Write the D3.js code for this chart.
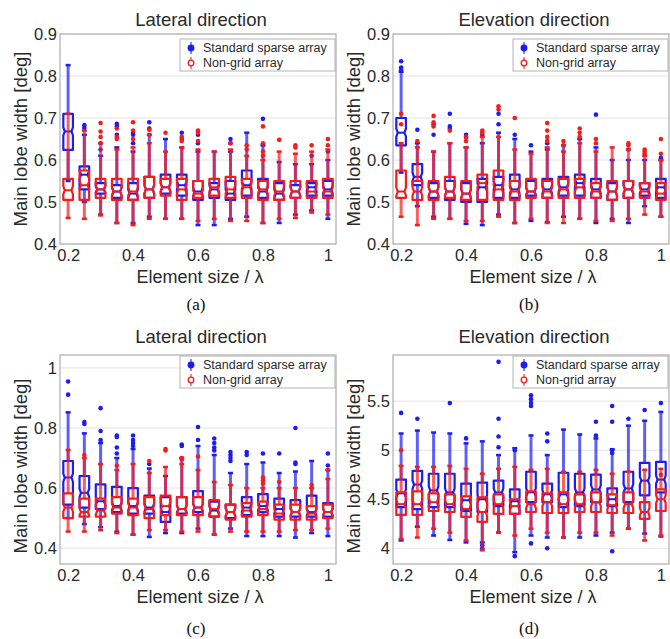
<!DOCTYPE html>
<html>
<head>
<meta charset="utf-8">
<script src="https://cdn.jsdelivr.net/npm/d3@7"></script>
<style>
  body { margin: 0; background: #fff; }
  svg { display: block; font-family: "Liberation Sans", Arial, sans-serif; }
</style>
</head>
<body>
<svg id="chart"></svg>
<script>
// element size / lambda, one box per value
const sizes = [0.2, 0.25, 0.3, 0.35, 0.4, 0.45, 0.5, 0.55, 0.6, 0.65, 0.7, 0.75, 0.8, 0.85, 0.9, 0.95, 1];
const xTicks = [0.2, 0.4, 0.6, 0.8, 1];
const seriesNames = ['Standard sparse array', 'Non-grid  array'];

// each box row: [whisker low, q1, median, q3, whisker high]
// (a) lateral
const aStd = [
  [0.55, 0.624, 0.668, 0.71, 0.826], [0.50, 0.53, 0.565, 0.585, 0.66], [0.47, 0.52, 0.53, 0.545, 0.61],
  [0.45, 0.51, 0.525, 0.54, 0.63], [0.45, 0.505, 0.52, 0.545, 0.62], [0.465, 0.51, 0.53, 0.56, 0.66],
  [0.46, 0.52, 0.535, 0.565, 0.65], [0.46, 0.515, 0.54, 0.565, 0.63], [0.445, 0.505, 0.525, 0.55, 0.62],
  [0.445, 0.51, 0.53, 0.545, 0.62], [0.46, 0.505, 0.52, 0.55, 0.62], [0.465, 0.515, 0.54, 0.575, 0.665],
  [0.45, 0.51, 0.525, 0.555, 0.635], [0.45, 0.505, 0.52, 0.545, 0.595], [0.47, 0.51, 0.525, 0.54, 0.59],
  [0.48, 0.515, 0.535, 0.545, 0.59], [0.46, 0.515, 0.53, 0.55, 0.6]];
const aStdOut = [[], [0.676, 0.683], [0.625, 0.64], [0.66, 0.68, 0.686], [0.64, 0.66, 0.665], [0.675, 0.69], [],
  [0.65, 0.665], [0.64, 0.66], [], [0.64, 0.65], [], [0.698], [], [], [0.61], [0.62]];
const aNg = [
  [0.462, 0.505, 0.528, 0.555, 0.71], [0.46, 0.505, 0.54, 0.575, 0.67], [0.468, 0.51, 0.53, 0.555, 0.64],
  [0.45, 0.505, 0.525, 0.555, 0.625], [0.445, 0.505, 0.525, 0.555, 0.63], [0.46, 0.51, 0.53, 0.56, 0.64],
  [0.46, 0.515, 0.535, 0.555, 0.62], [0.46, 0.505, 0.53, 0.555, 0.63], [0.455, 0.51, 0.52, 0.55, 0.625],
  [0.46, 0.515, 0.535, 0.555, 0.62], [0.455, 0.51, 0.53, 0.56, 0.625], [0.455, 0.51, 0.535, 0.555, 0.61],
  [0.45, 0.505, 0.53, 0.55, 0.6], [0.46, 0.505, 0.525, 0.55, 0.62], [0.462, 0.51, 0.525, 0.55, 0.615],
  [0.475, 0.51, 0.525, 0.55, 0.62], [0.47, 0.51, 0.525, 0.555, 0.625]];
const aNgOut = [[], [], [0.655, 0.668, 0.688], [0.65, 0.655, 0.675], [0.65, 0.67, 0.69], [0.66, 0.672], [0.665],
  [0.645, 0.655], [0.645, 0.665, 0.67], [], [0.64], [0.625, 0.635], [0.61, 0.62, 0.64, 0.68], [0.648],
  [0.63, 0.635], [0.635], [0.635, 0.65]];

// (b) elevation
const bStd = [
  [0.57, 0.635, 0.665, 0.7, 0.81], [0.49, 0.54, 0.56, 0.59, 0.64], [0.465, 0.51, 0.525, 0.545, 0.62],
  [0.46, 0.505, 0.525, 0.55, 0.64], [0.448, 0.5, 0.52, 0.545, 0.63], [0.445, 0.5, 0.535, 0.555, 0.64],
  [0.47, 0.51, 0.54, 0.56, 0.665], [0.45, 0.51, 0.53, 0.565, 0.65], [0.455, 0.515, 0.525, 0.55, 0.62],
  [0.452, 0.51, 0.53, 0.555, 0.625], [0.465, 0.515, 0.535, 0.56, 0.635], [0.46, 0.515, 0.545, 0.565, 0.65],
  [0.45, 0.51, 0.53, 0.555, 0.63], [0.46, 0.505, 0.525, 0.545, 0.6], [0.45, 0.51, 0.53, 0.55, 0.6],
  [0.49, 0.515, 0.53, 0.545, 0.6], [0.465, 0.51, 0.535, 0.555, 0.6]];
const bStdOut = [[0.815, 0.82, 0.835], [0.672], [0.66, 0.685], [0.675, 0.68, 0.71], [0.655, 0.66], [0.66],
  [0.685, 0.71], [0.66], [0.635], [0.64], [], [], [0.708], [], [0.625], [], [0.605]];
const bNg = [
  [0.465, 0.51, 0.525, 0.575, 0.64], [0.445, 0.505, 0.525, 0.55, 0.63], [0.46, 0.505, 0.525, 0.55, 0.62],
  [0.46, 0.51, 0.525, 0.56, 0.64], [0.455, 0.505, 0.52, 0.55, 0.63], [0.455, 0.505, 0.545, 0.565, 0.655],
  [0.465, 0.505, 0.53, 0.575, 0.655], [0.45, 0.505, 0.525, 0.55, 0.625], [0.46, 0.51, 0.525, 0.555, 0.615],
  [0.45, 0.51, 0.525, 0.55, 0.63], [0.45, 0.51, 0.53, 0.555, 0.62], [0.46, 0.51, 0.535, 0.555, 0.64],
  [0.455, 0.51, 0.525, 0.545, 0.62], [0.455, 0.505, 0.525, 0.55, 0.63], [0.46, 0.51, 0.53, 0.55, 0.625],
  [0.47, 0.51, 0.525, 0.545, 0.61], [0.465, 0.505, 0.52, 0.545, 0.6]];
const bNgOut = [[0.685, 0.71], [0.645], [0.68, 0.69, 0.705], [0.67], [0.645, 0.655], [0.665, 0.67], [0.72, 0.728],
  [0.7], [], [0.645, 0.655, 0.67, 0.688], [0.635, 0.645], [0.655, 0.665, 0.675], [0.64, 0.65], [],
  [0.635, 0.64], [0.615, 0.62, 0.625], [0.615, 0.65]];

// (c) lateral
const cStd = [
  [0.5, 0.545, 0.635, 0.69, 0.852], [0.48, 0.535, 0.584, 0.64, 0.782], [0.47, 0.53, 0.556, 0.612, 0.75],
  [0.455, 0.52, 0.54, 0.604, 0.7], [0.445, 0.515, 0.54, 0.6, 0.73], [0.437, 0.515, 0.535, 0.575, 0.665],
  [0.45, 0.487, 0.52, 0.57, 0.64], [0.45, 0.515, 0.53, 0.57, 0.7], [0.465, 0.52, 0.535, 0.59, 0.74],
  [0.445, 0.505, 0.525, 0.555, 0.71], [0.465, 0.5, 0.52, 0.545, 0.65], [0.44, 0.51, 0.535, 0.57, 0.68],
  [0.44, 0.52, 0.54, 0.58, 0.685], [0.44, 0.505, 0.53, 0.565, 0.65], [0.435, 0.505, 0.52, 0.56, 0.655],
  [0.45, 0.505, 0.52, 0.575, 0.69], [0.44, 0.505, 0.52, 0.55, 0.66]];
const cStdOut = [[0.911, 0.955], [0.813, 0.82], [0.76, 0.79, 0.866], [0.715, 0.735, 0.77, 0.775],
  [0.74, 0.75, 0.76, 0.775], [0.68], [], [0.74, 0.745], [0.76, 0.803], [0.725, 0.735, 0.75, 0.765],
  [0.69, 0.7, 0.71, 0.72], [0.71, 0.72], [0.715], [0.715], [0.68, 0.685, 0.8], [], [0.675, 0.715]];
const cNg = [
  [0.455, 0.5, 0.535, 0.582, 0.727], [0.455, 0.505, 0.52, 0.565, 0.7], [0.46, 0.505, 0.525, 0.565, 0.68],
  [0.45, 0.515, 0.535, 0.57, 0.66], [0.445, 0.51, 0.535, 0.565, 0.68], [0.46, 0.5, 0.53, 0.57, 0.65],
  [0.46, 0.51, 0.54, 0.575, 0.67], [0.455, 0.51, 0.53, 0.57, 0.68], [0.455, 0.51, 0.535, 0.57, 0.66],
  [0.445, 0.505, 0.53, 0.56, 0.62], [0.455, 0.495, 0.52, 0.545, 0.61], [0.455, 0.505, 0.525, 0.55, 0.6],
  [0.455, 0.51, 0.53, 0.555, 0.6], [0.455, 0.495, 0.515, 0.545, 0.6], [0.46, 0.495, 0.52, 0.545, 0.6],
  [0.46, 0.495, 0.515, 0.54, 0.6], [0.465, 0.5, 0.52, 0.545, 0.63]];
const cNgOut = [[], [0.71], [], [0.675], [], [0.69], [0.725, 0.73], [0.695, 0.7], [0.705], [], [], [],
  [0.615, 0.625, 0.635], [0.62], [], [0.61], [0.66]];

// (d) elevation
const dStd = [
  [4.08, 4.42, 4.56, 4.7, 5.17], [4.22, 4.4, 4.65, 4.79, 5.2], [4.13, 4.42, 4.59, 4.76, 5.18],
  [4.085, 4.42, 4.57, 4.76, 5.17], [4.06, 4.38, 4.49, 4.66, 5.07], [4.06, 4.37, 4.5, 4.67, 5.09],
  [4.16, 4.43, 4.57, 4.69, 4.95], [3.96, 4.35, 4.48, 4.6, 5.02], [4.13, 4.47, 4.57, 4.78, 5.15],
  [4.11, 4.47, 4.55, 4.66, 4.95], [4.11, 4.42, 4.55, 4.77, 5.21], [4.11, 4.43, 4.57, 4.76, 5.16],
  [4.13, 4.47, 4.6, 4.75, 5.12], [4.16, 4.43, 4.5, 4.61, 5.01], [4.2, 4.47, 4.61, 4.78, 5.25],
  [4.15, 4.54, 4.69, 4.87, 5.3], [4.12, 4.57, 4.7, 4.88, 5.39]];
const dStdOut = [[5.38], [5.32], [], [5.48], [5.12], [4.0, 4.03], [5.03, 5.14, 5.32, 5.9], [3.92, 5.0],
  [4.05, 5.45, 5.48, 5.52, 5.56], [4.0, 5.09, 5.17], [], [], [5.15, 5.29], [3.97, 4.97, 5.0, 5.29, 5.45],
  [5.32], [5.41], [5.48]];
const dNg = [
  [4.095, 4.34, 4.45, 4.57, 4.84], [4.11, 4.34, 4.45, 4.58, 4.83], [4.2, 4.38, 4.47, 4.56, 4.83],
  [4.16, 4.37, 4.45, 4.55, 4.84], [4.08, 4.32, 4.4, 4.53, 4.81], [3.98, 4.27, 4.37, 4.52, 4.76],
  [4.16, 4.35, 4.45, 4.55, 4.81], [4.13, 4.35, 4.43, 4.5, 4.83], [4.2, 4.37, 4.45, 4.58, 4.8],
  [4.16, 4.36, 4.47, 4.56, 4.81], [4.11, 4.36, 4.45, 4.57, 4.78], [4.16, 4.37, 4.45, 4.55, 4.78],
  [4.16, 4.37, 4.47, 4.57, 4.8], [4.13, 4.36, 4.44, 4.55, 4.76], [4.2, 4.36, 4.45, 4.57, 4.78],
  [4.08, 4.3, 4.37, 4.47, 4.8], [4.13, 4.38, 4.5, 4.6, 4.81]];
const dNgOut = [[5.0], [], [], [], [], [], [], [], [], [], [], [], [], [], [], [], [4.75]];

const BLUE = '#1c1cf5';
const RED = '#f51c1c';
const W = 670, H = 639;

const panels = [
  {left: 60, right: 336, top: 34, bottom: 244, yDomain: [0.4, 0.9], yTicks: [0.4, 0.5, 0.6, 0.7, 0.8, 0.9],
   title: 'Lateral direction', titleY: 26, xLabelY: 283, capY: 310, cap: '(a)', yLabelY: 139,
   std: aStd, stdOut: aStdOut, ng: aNg, ngOut: aNgOut},
  {left: 393, right: 669, top: 34, bottom: 244, yDomain: [0.4, 0.9], yTicks: [0.4, 0.5, 0.6, 0.7, 0.8, 0.9],
   title: 'Elevation direction', titleY: 26, xLabelY: 283, capY: 310, cap: '(b)', yLabelY: 139,
   std: bStd, stdOut: bStdOut, ng: bNg, ngOut: bNgOut},
  {left: 60, right: 336, top: 355, bottom: 564, yDomain: [0.347, 1.043], yTicks: [0.4, 0.6, 0.8, 1],
   title: 'Lateral direction', titleY: 343, xLabelY: 603, capY: 634, cap: '(c)', yLabelY: 466,
   std: cStd, stdOut: cStdOut, ng: cNg, ngOut: cNgOut},
  {left: 393, right: 669, top: 355, bottom: 564, yDomain: [3.84, 5.97], yTicks: [4, 4.5, 5, 5.5],
   title: 'Elevation direction', titleY: 343, xLabelY: 603, capY: 634, cap: '(d)', yLabelY: 466,
   std: dStd, stdOut: dStdOut, ng: dNg, ngOut: dNgOut}
];

const svg = d3.select('#chart').attr('width', W).attr('height', H);
svg.append('rect').attr('width', W).attr('height', H).attr('fill', '#fff');

function boxPath(cx, hw, yq1, ymed, yq3) {
  // notched box, shallow notch limited by the box halves
  const n = Math.min(4, (yq1 - ymed) * 0.7, (ymed - yq3) * 0.7);
  const nw = hw * 0.7;
  return `M${cx - hw},${yq3} L${cx + hw},${yq3} L${cx + hw},${ymed - n} L${cx + nw},${ymed}` +
    ` L${cx + hw},${ymed + n} L${cx + hw},${yq1} L${cx - hw},${yq1} L${cx - hw},${ymed + n}` +
    ` L${cx - nw},${ymed} L${cx - hw},${ymed - n} Z`;
}

function drawSeries(g, x, y, rows, outs, color) {
  const hw = 4.8;
  const s = g.append('g');
  rows.forEach((r, i) => {
    const cx = x(sizes[i]);
    const [lo, q1, med, q3, hi] = r;
    s.append('line').attr('x1', cx).attr('x2', cx).attr('y1', y(lo)).attr('y2', y(q1))
      .attr('stroke', color).attr('stroke-width', 3).attr('stroke-opacity', 0.7);
    s.append('line').attr('x1', cx).attr('x2', cx).attr('y1', y(q3)).attr('y2', y(hi))
      .attr('stroke', color).attr('stroke-width', 3).attr('stroke-opacity', 0.7);
    [lo, hi].forEach(v => {
      s.append('line').attr('x1', cx - 2.5).attr('x2', cx + 2.5).attr('y1', y(v)).attr('y2', y(v))
        .attr('stroke', color).attr('stroke-width', 2.5);
    });
    s.append('path').attr('d', boxPath(cx, hw, y(q1), y(med), y(q3)))
      .attr('fill', 'none').attr('stroke', color).attr('stroke-width', 2.2)
      .attr('stroke-linejoin', 'round');
    s.append('line').attr('x1', cx - hw * 0.7).attr('x2', cx + hw * 0.7).attr('y1', y(med)).attr('y2', y(med))
      .attr('stroke', color).attr('stroke-width', 2);
    s.selectAll(null).data(outs[i]).enter().append('circle')
      .attr('cx', cx).attr('cy', d => y(d)).attr('r', 2.3).attr('fill', color);
  });
}

function drawPanel(p) {
  const g = svg.append('g');
  const x = d3.scaleLinear().domain([0.175, 1.025]).range([p.left, p.right]);
  const y = d3.scaleLinear().domain(p.yDomain).range([p.bottom, p.top]);
  const fmt = d3.format('~g');

  g.append('rect').attr('x', p.left).attr('y', p.top)
    .attr('width', p.right - p.left).attr('height', p.bottom - p.top).attr('fill', '#fff');
  g.append('g').selectAll('line').data(p.yTicks).enter().append('line')
    .attr('x1', p.left).attr('x2', p.right).attr('y1', d => y(d)).attr('y2', d => y(d))
    .attr('stroke', '#e4e4e4').attr('stroke-width', 1);

  drawSeries(g, x, y, p.std, p.stdOut, BLUE);
  drawSeries(g, x, y, p.ng, p.ngOut, RED);

  g.append('rect').attr('x', p.left).attr('y', p.top)
    .attr('width', p.right - p.left).attr('height', p.bottom - p.top)
    .attr('fill', 'none').attr('stroke', '#b4b4b4').attr('stroke-width', 1.3);

  const xa = g.append('g').attr('transform', `translate(0,${p.bottom})`)
    .call(d3.axisBottom(x).tickValues(xTicks).tickFormat(fmt).tickSize(0).tickPadding(5));
  const ya = g.append('g').attr('transform', `translate(${p.left},0)`)
    .call(d3.axisLeft(y).tickValues(p.yTicks).tickFormat(fmt).tickSize(0).tickPadding(3));
  [xa, ya].forEach(a => {
    a.select('.domain').remove();
    a.selectAll('text').attr('font-size', 16.5).attr('fill', '#2a2a2a')
      .attr('font-family', '"Liberation Sans", Arial, sans-serif');
  });

  const cx = (p.left + p.right) / 2;
  g.append('text').attr('x', cx + 3).attr('y', p.titleY).attr('text-anchor', 'middle')
    .attr('font-size', 18.5).attr('fill', '#2a2a2a').text(p.title);
  g.append('text').attr('x', cx + 2).attr('y', p.xLabelY).attr('text-anchor', 'middle')
    .attr('font-size', 18).attr('fill', '#2a2a2a').text('Element size / \u03bb');
  g.append('text').attr('transform', `translate(${p.left - 40},${p.yLabelY}) rotate(-90)`)
    .attr('text-anchor', 'middle').attr('dominant-baseline', 'central')
    .attr('font-size', 18.5).attr('fill', '#2a2a2a').text('Main lobe width [deg]');
  g.append('text').attr('x', cx - 2).attr('y', p.capY).attr('text-anchor', 'middle')
    .attr('font-family', '"Liberation Serif", "Times New Roman", serif')
    .attr('font-size', 17).attr('fill', '#111').text(p.cap);

  // legend
  const lw = 156, lh = 32;
  const lx = p.right - lw, ly = p.top + (p.top > 100 ? 1 : 5);
  const lg = g.append('g').attr('transform', `translate(${lx},${ly})`);
  lg.append('rect').attr('width', lw - 1).attr('height', lh).attr('fill', '#fff')
    .attr('stroke', '#b4b4b4').attr('stroke-width', 1);
  [BLUE, RED].forEach((c, i) => {
    const ry = 9 + i * 15;
    lg.append('line').attr('x1', 11).attr('x2', 11).attr('y1', ry - 6).attr('y2', ry + 6)
      .attr('stroke', c).attr('stroke-width', 1.5).attr('stroke-opacity', 0.7);
    lg.append('circle').attr('cx', 11).attr('cy', ry).attr('r', 2.8)
      .attr('fill', i === 0 ? c : '#fff').attr('stroke', c).attr('stroke-width', 1.3);
    lg.append('text').attr('x', 23).attr('y', ry).attr('dominant-baseline', 'central')
      .attr('font-size', 12.5).attr('fill', '#2a2a2a').text(seriesNames[i]);
  });
}

panels.forEach(drawPanel);
</script>
</body>
</html>
